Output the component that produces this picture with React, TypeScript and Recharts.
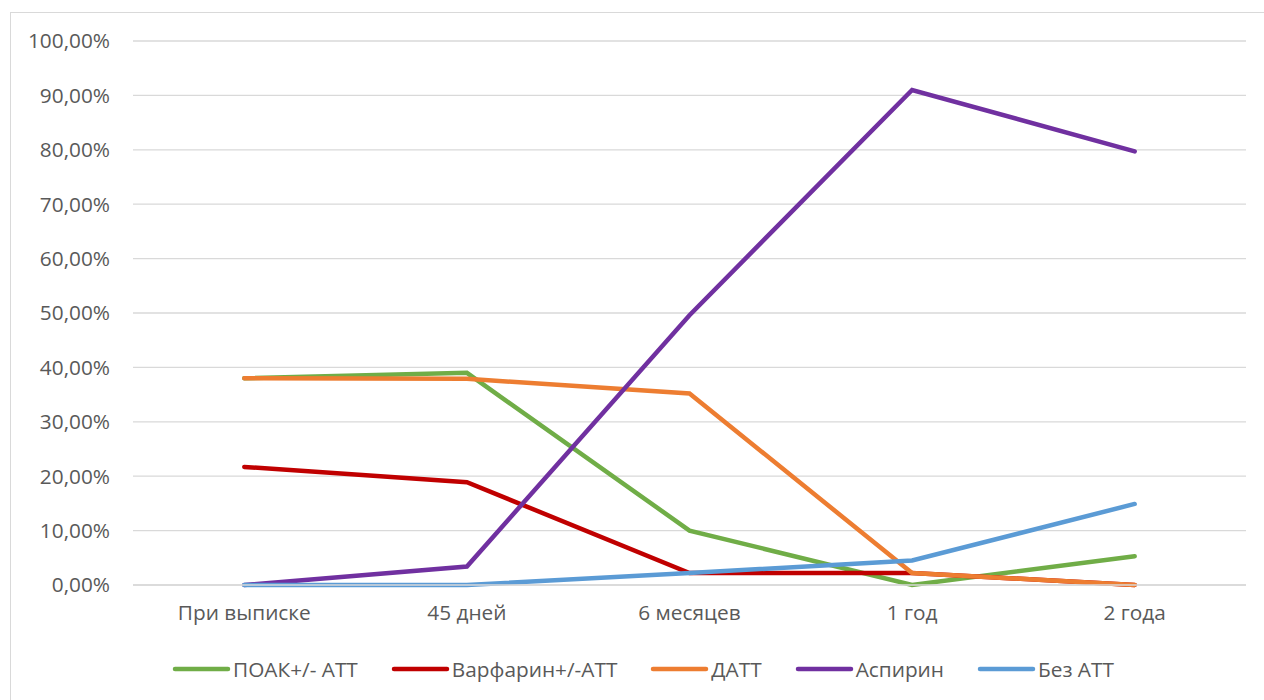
import React from "react";
import { LineChart, Line, XAxis, YAxis, CartesianGrid, Legend } from "recharts";

// Time points after discharge
const periods = ["При выписке", "45 дней", "6 месяцев", "1 год", "2 года"];

// Share of patients per therapy, %
const poak = [38.0, 39.0, 10.0, 0, 5.3];
const warfarin = [21.7, 18.9, 2.2, 2.2, 0];
const datt = [38.0, 37.9, 35.2, 2.2, 0];
const aspirin = [0, 3.4, 49.6, 91.0, 79.7];
const noAtt = [0, 0, 2.2, 4.5, 14.9];

const yTicks = [0, 10, 20, 30, 40, 50, 60, 70, 80, 90, 100];

const series = [
  { key: "poak", name: "ПОАК+/- АТТ", color: "#70AD47", values: poak },
  { key: "warfarin", name: "Варфарин+/-АТТ", color: "#C00000", values: warfarin },
  { key: "datt", name: "ДАТТ", color: "#ED7D31", values: datt },
  { key: "aspirin", name: "Аспирин", color: "#7030A0", values: aspirin },
  { key: "noAtt", name: "Без АТТ", color: "#5B9BD5", values: noAtt },
];

const data = periods.map((p, i) => {
  const row: Record<string, string | number> = { period: p };
  series.forEach((s) => {
    row[s.key] = s.values[i];
  });
  return row;
});

const FONT = "'Open Sans', 'Liberation Sans', sans-serif";
const TEXT = "#595959";
const FS = 20.8;

const fmt = (v: number) => v.toFixed(2).replace(".", ",") + "%";

const LegendContent = () => (
  <div
    style={{
      display: "flex",
      alignItems: "center",
      fontFamily: FONT,
      fontSize: FS,
      color: TEXT,
      gap: 33,
      whiteSpace: "nowrap",
    }}
  >
    {series.map((s) => (
      <div key={s.key} style={{ display: "flex", alignItems: "center" }}>
        <svg width={59} height={10} style={{ marginRight: 2 }}>
          <line x1={3} y1={5} x2={56} y2={5} stroke={s.color} strokeWidth={4.5} strokeLinecap="round" />
        </svg>
        <span>{s.name}</span>
      </div>
    ))}
  </div>
);

export default function App() {
  return (
    <div
      style={{
        position: "absolute",
        left: 0,
        top: 0,
        width: 1264,
        height: 700,
        background: "#fff",
        overflow: "hidden",
      }}
    >
      <div
        style={{
          position: "absolute",
          left: 10,
          top: 12,
          width: 1300,
          height: 720,
          borderLeft: "1.5px solid #d9d9d9",
          borderTop: "1.5px solid #d9d9d9",
        }}
      />
      <LineChart
        width={1264}
        height={700}
        data={data}
        margin={{ top: 41, right: 18, left: 0, bottom: 55 }}
        style={{ position: "absolute", left: 0, top: 0 }}
      >
        <CartesianGrid vertical={false} stroke="#d9d9d9" strokeWidth={1.3} />
        <XAxis
          dataKey="period"
          axisLine={{ stroke: "#d9d9d9", strokeWidth: 1.3 }}
          tickLine={false}
          tickSize={0}
          tickMargin={20}
          padding={{ left: 111.3, right: 111.3 }}
          height={30}
          interval={0}
          tick={{ fill: TEXT, fontFamily: FONT, fontSize: FS }}
        />
        <YAxis
          domain={[0, 100]}
          ticks={yTicks}
          tickFormatter={fmt}
          axisLine={false}
          tickLine={false}
          tickSize={0}
          tickMargin={23}
          width={133}
          interval={0}
          tick={{ fill: TEXT, fontFamily: FONT, fontSize: FS }}
        />
        {series.map((s) => (
          <Line
            key={s.key}
            type="linear"
            dataKey={s.key}
            name={s.name}
            stroke={s.color}
            strokeWidth={4.5}
            strokeLinecap="round"
            dot={false}
            activeDot={false}
            isAnimationActive={false}
          />
        ))}
        <Legend
          content={<LegendContent />}
          wrapperStyle={{ position: "absolute", left: 172, top: 655, width: "auto", height: 30 }}
        />
      </LineChart>
    </div>
  );
}
